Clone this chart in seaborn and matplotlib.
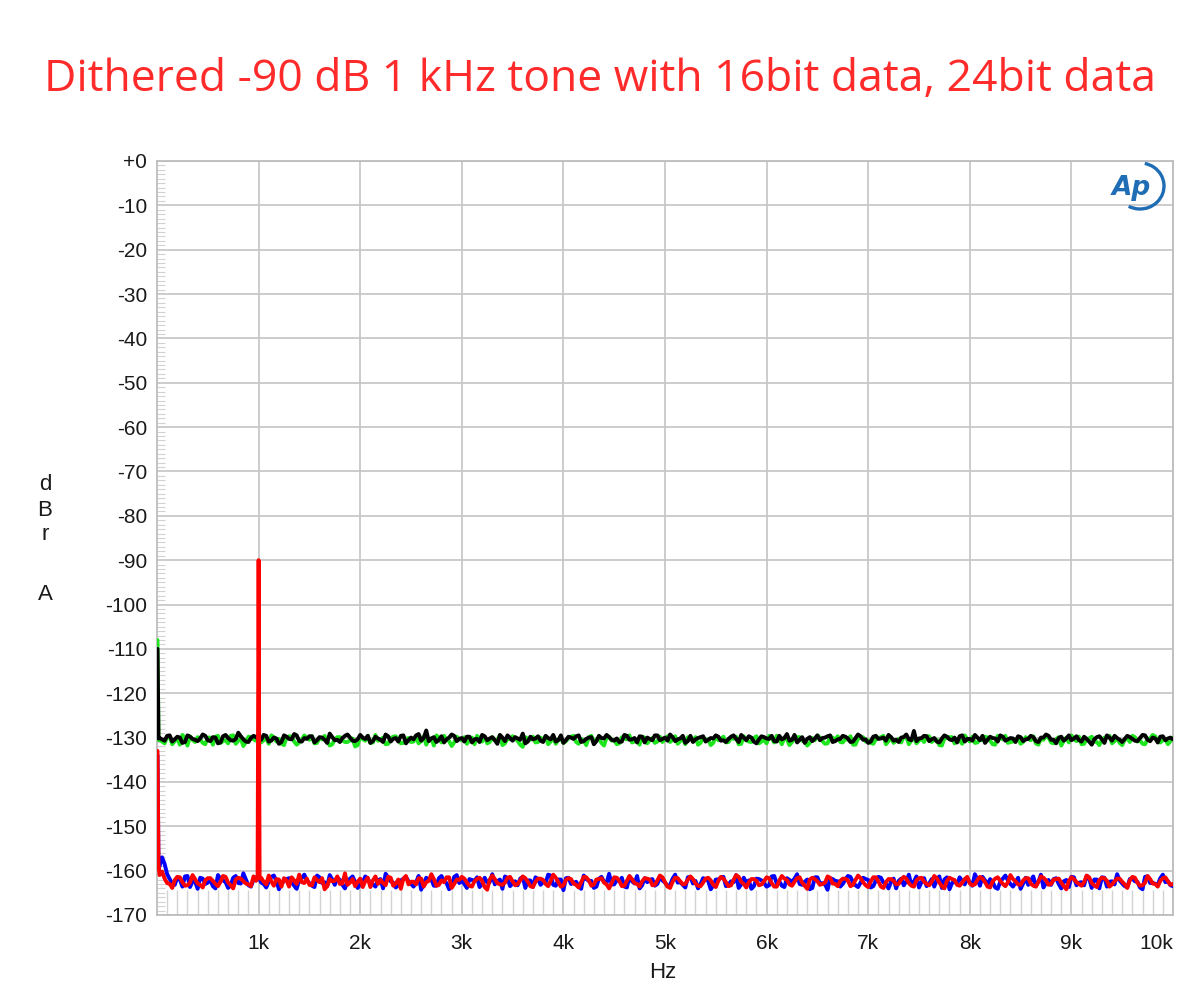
import numpy as np
import pandas as pd
import matplotlib
matplotlib.use("Agg")
import matplotlib.pyplot as plt
from matplotlib.patches import Arc
import seaborn as sns

title = "Dithered -90 dB 1 kHz tone with 16bit data, 24bit data"

# FFT bin grids (Hz)
freq_hz = np.arange(50, 10001, 50)
freq_half_hz = np.arange(25, 10000, 50)
low_freq_hz = [5, 15]

green_low = [-108.0, -130.6]
black_low = [-110.0, -130.2]
blue_low = [-134.0, -159.5]
red_low = [-133.0, -158.5]

tone_side_freq = [990, 1010]
tone_side_db = [-161.5, -161.8]

black_db = [
    -130.4,-129.6,-130.9,-129.8,-131.2,-129.5,-130.3,-130.8,-129.3,-130.6,
    -129.9,-131.3,-129.7,-130.1,-130.7,-128.9,-130.4,-131.0,-129.6,-130.2,
    -129.4,-130.9,-130.0,-131.4,-129.5,-130.3,-129.2,-130.8,-130.1,-129.7,
    -131.1,-129.9,-130.5,-129.1,-130.6,-131.0,-129.6,-130.0,-130.8,-129.4,
    -130.3,-131.2,-129.8,-130.5,-129.3,-130.9,-130.1,-129.6,-131.3,-130.0,
    -129.5,-130.7,-128.4,-130.2,-131.0,-129.7,-130.4,-129.3,-130.8,-130.1,
    -129.8,-131.1,-130.3,-129.4,-130.6,-129.9,-131.4,-130.0,-129.5,-130.7,
    -130.2,-129.1,-130.9,-130.4,-129.7,-131.0,-130.1,-129.4,-130.6,-131.2,
    -129.8,-130.3,-129.5,-130.8,-130.0,-131.5,-129.6,-130.2,-129.9,-130.7,
    -131.0,-129.4,-130.5,-130.1,-129.7,-131.1,-130.3,-129.5,-130.6,-130.0,
    -129.3,-130.8,-130.2,-131.2,-129.6,-130.4,-129.9,-130.9,-130.1,-129.5,
    -130.7,-131.0,-129.8,-130.3,-129.4,-130.6,-130.0,-131.3,-129.7,-130.2,
    -129.6,-130.9,-130.4,-129.2,-130.5,-131.1,-129.9,-130.3,-130.8,-129.5,
    -130.1,-129.7,-131.0,-130.4,-129.6,-130.2,-130.9,-129.3,-130.5,-131.2,
    -129.8,-130.3,-130.0,-129.4,-130.7,-131.0,-129.9,-130.4,-128.5,-130.2,
    -129.6,-130.8,-130.1,-131.1,-129.5,-130.4,-130.0,-129.7,-130.9,-130.3,
    -129.4,-130.6,-131.2,-129.8,-130.2,-129.5,-130.7,-130.1,-131.0,-129.9,
    -130.4,-129.6,-130.8,-130.0,-129.3,-130.5,-131.3,-129.8,-130.2,-130.6,
    -129.7,-130.9,-130.3,-131.6,-129.9,-130.4,-129.5,-130.7,-130.1,-131.0,
    -129.6,-130.3,-130.8,-129.4,-130.5,-130.0,-131.1,-129.7,-130.2,-130.4,
]
black_half_db = [
    -130.1,-130.7,-129.5,-130.4,-130.0,-131.0,-129.8,-130.5,-130.2,-129.6,
    -130.8,-130.0,-131.1,-129.4,-130.6,-130.3,-129.7,-130.9,-130.1,-129.9,
    -130.5,-129.6,-130.7,-130.2,-131.0,-129.8,-130.4,-129.5,-130.9,-130.3,
    -129.7,-130.6,-130.0,-131.2,-129.9,-130.5,-130.1,-129.3,-130.7,-130.4,
    -130.0,-129.6,-130.8,-130.2,-131.0,-129.7,-130.3,-130.9,-129.5,-130.6,
    -130.4,-129.2,-130.1,-130.8,-129.9,-130.5,-131.1,-130.0,-129.6,-130.3,
    -130.9,-129.8,-130.4,-131.0,-129.7,-130.2,-130.6,-129.4,-130.8,-130.1,
    -129.9,-130.5,-131.3,-129.8,-130.2,-130.7,-129.6,-130.4,-130.9,-129.5,
    -130.6,-130.0,-129.7,-131.0,-130.3,-129.9,-130.8,-130.1,-129.4,-130.5,
    -130.2,-130.9,-129.6,-130.4,-131.1,-129.8,-130.0,-130.6,-129.5,-130.3,
    -130.7,-129.9,-130.4,-129.6,-130.8,-131.0,-130.1,-129.7,-130.5,-130.2,
    -129.8,-130.6,-130.3,-129.5,-131.0,-130.0,-129.7,-130.9,-130.4,-129.9,
    -130.3,-130.8,-129.6,-130.1,-130.7,-129.4,-130.5,-131.2,-129.9,-130.2,
    -130.6,-130.0,-129.5,-130.8,-130.3,-129.8,-131.0,-130.1,-129.7,-130.4,
    -130.9,-129.6,-130.2,-130.7,-129.9,-130.5,-130.0,-129.3,-130.6,-130.8,
    -130.1,-129.7,-130.4,-130.9,-130.2,-129.8,-130.6,-131.1,-129.5,-130.3,
    -130.7,-130.0,-129.6,-130.5,-130.1,-130.9,-129.8,-130.4,-130.2,-129.7,
    -130.8,-130.3,-129.9,-131.0,-130.0,-129.6,-130.5,-130.1,-130.7,-129.5,
    -130.2,-130.6,-129.8,-130.9,-130.4,-129.7,-131.2,-130.0,-129.6,-130.5,
    -130.3,-129.9,-130.7,-130.1,-129.5,-130.8,-130.2,-129.8,-130.6,-130.0,
]

green_db = [
    -130.9,-129.8,-131.5,-130.2,-129.4,-131.8,-130.5,-129.9,-131.2,-130.0,
    -131.6,-129.6,-130.8,-131.3,-129.5,-130.7,-131.9,-129.8,-130.4,-129.3,
    -130.6,-131.4,-129.9,-130.3,-131.7,-129.7,-130.9,-131.1,-129.5,-130.5,
    -131.3,-130.0,-129.6,-131.8,-130.4,-129.9,-131.0,-130.6,-132.0,-129.8,
    -130.7,-131.2,-129.4,-130.5,-131.5,-130.1,-129.7,-131.3,-130.3,-131.0,
    -129.9,-130.8,-131.6,-130.2,-129.5,-131.1,-130.4,-131.9,-129.8,-130.6,
    -131.4,-130.0,-129.6,-130.9,-131.3,-129.9,-130.5,-131.7,-130.2,-129.7,
    -130.8,-132.1,-130.3,-129.8,-131.0,-130.6,-131.5,-129.9,-130.4,-131.2,
    -130.1,-129.6,-131.4,-130.7,-129.9,-131.0,-130.3,-131.8,-129.8,-130.5,
    -131.3,-130.2,-129.5,-130.9,-131.6,-130.0,-130.6,-131.2,-129.8,-130.4,
    -131.0,-129.7,-130.8,-131.5,-130.3,-129.9,-131.2,-130.5,-131.7,-129.6,
    -130.4,-131.1,-130.0,-129.8,-131.4,-130.6,-131.0,-129.7,-130.9,-131.3,
    -130.2,-129.6,-131.5,-130.4,-131.0,-129.9,-130.7,-131.8,-130.1,-129.5,
    -130.8,-131.3,-130.0,-129.7,-131.1,-130.5,-131.6,-130.2,-129.9,-130.6,
    -131.4,-130.1,-129.6,-130.8,-131.2,-130.3,-129.8,-131.5,-130.0,-130.7,
    -131.0,-129.7,-130.5,-131.7,-130.2,-129.9,-131.3,-130.6,-129.5,-130.9,
    -131.2,-130.4,-129.8,-130.7,-131.6,-130.1,-129.6,-131.0,-130.5,-131.4,
    -129.9,-130.6,-131.3,-130.2,-129.7,-131.1,-130.4,-131.8,-130.0,-129.5,
    -130.8,-131.5,-130.3,-129.8,-131.0,-130.6,-129.9,-131.3,-130.2,-131.7,
    -130.1,-129.6,-130.9,-131.4,-130.3,-129.4,-131.0,-130.6,-131.5,-130.0,
]
green_half_db = [
    -130.5,-131.3,-129.9,-130.8,-131.6,-130.1,-129.7,-131.0,-130.4,-131.5,
    -130.0,-129.8,-131.2,-130.6,-129.6,-131.4,-130.3,-131.0,-129.9,-130.7,
    -131.1,-130.2,-129.5,-130.9,-131.4,-130.0,-129.8,-131.6,-130.5,-130.1,
    -129.7,-131.2,-130.4,-130.8,-131.5,-129.9,-130.6,-131.0,-130.2,-131.7,
    -130.3,-129.6,-131.1,-130.7,-130.0,-131.4,-129.8,-130.5,-131.2,-130.1,
    -130.9,-131.3,-129.7,-130.4,-131.8,-130.0,-129.6,-130.8,-131.1,-130.3,
    -129.9,-130.6,-131.5,-130.2,-129.8,-131.0,-130.7,-129.5,-131.3,-130.4,
    -130.1,-131.6,-129.9,-130.5,-131.1,-130.0,-129.7,-130.9,-131.4,-130.2,
    -130.8,-129.8,-131.0,-130.3,-131.7,-129.6,-130.5,-131.2,-130.0,-130.7,
    -131.5,-129.9,-130.4,-131.1,-130.6,-129.8,-131.3,-130.1,-130.9,-131.0,
    -129.7,-130.5,-131.4,-130.2,-129.9,-130.8,-131.6,-130.0,-130.4,-131.2,
    -130.6,-129.8,-131.0,-130.3,-131.5,-129.7,-130.9,-130.1,-131.3,-130.5,
    -129.6,-131.1,-130.4,-130.0,-131.7,-130.2,-129.9,-130.8,-131.2,-130.6,
    -130.0,-131.4,-129.8,-130.5,-131.0,-130.3,-129.7,-131.6,-130.1,-130.9,
    -131.2,-130.4,-129.9,-131.5,-130.0,-130.7,-131.1,-129.8,-130.6,-131.3,
    -130.2,-129.7,-131.0,-130.5,-131.8,-130.1,-129.9,-130.8,-131.4,-130.3,
    -129.8,-131.1,-130.6,-130.0,-131.5,-129.6,-130.4,-131.2,-130.9,-130.1,
    -131.0,-130.3,-129.7,-131.6,-130.5,-130.0,-131.3,-129.9,-130.7,-131.1,
    -130.4,-129.8,-131.4,-130.2,-130.9,-131.7,-130.0,-129.6,-130.8,-131.2,
    -130.5,-131.0,-129.9,-130.6,-131.5,-130.2,-129.7,-131.1,-130.4,-130.8,
]

blue_db = [
    -157.0,-160.8,-162.9,-161.5,-163.6,-161.2,-162.4,-164.1,-161.8,-162.7,
    -163.5,-161.0,-162.2,-163.9,-161.6,-162.8,-160.6,-163.3,-162.0,-161.4,
    -163.0,-162.5,-161.1,-164.2,-162.3,-161.7,-163.4,-162.0,-160.9,-162.8,
    -163.7,-161.5,-162.6,-161.0,-163.2,-162.1,-164.0,-161.8,-162.5,-163.1,
    -161.3,-162.9,-163.6,-161.9,-160.7,-162.4,-163.8,-162.2,-161.4,-163.0,
    -162.6,-164.3,-161.6,-162.0,-163.4,-161.2,-162.8,-163.5,-161.0,-162.3,
    -163.9,-162.1,-161.5,-163.0,-162.7,-160.8,-162.4,-164.1,-161.7,-162.9,
    -163.3,-161.4,-162.2,-163.7,-161.9,-162.6,-160.9,-163.2,-162.0,-164.4,
    -161.6,-162.8,-163.5,-161.1,-162.3,-163.9,-161.8,-162.5,-160.7,-163.1,
    -162.4,-163.6,-161.3,-162.9,-164.0,-161.7,-162.1,-163.4,-161.5,-162.7,
    -163.2,-160.9,-162.6,-163.8,-161.4,-162.3,-163.0,-161.9,-164.2,-162.0,
    -161.6,-163.5,-162.4,-161.0,-163.1,-162.7,-164.1,-161.8,-162.2,-163.6,
    -161.3,-162.9,-163.4,-161.7,-162.5,-160.8,-163.2,-162.0,-163.9,-161.5,
    -162.8,-164.3,-161.9,-162.4,-163.0,-161.2,-162.6,-163.7,-161.6,-162.1,
    -163.5,-161.4,-162.7,-164.0,-161.8,-162.3,-163.3,-160.9,-162.5,-163.8,
    -161.7,-162.9,-163.6,-161.3,-162.0,-164.2,-162.4,-161.5,-163.1,-162.6,
    -160.8,-163.4,-162.2,-161.9,-163.8,-162.5,-161.1,-163.0,-162.7,-164.1,
    -161.6,-162.3,-163.5,-160.9,-162.8,-163.2,-161.7,-164.0,-162.1,-161.4,
    -163.3,-162.6,-161.2,-163.9,-162.0,-161.5,-163.6,-162.4,-160.8,-162.9,
    -163.7,-161.8,-162.5,-164.2,-161.3,-162.7,-163.1,-160.9,-162.4,-163.5,
]
blue_half_db = [
    -159.0,-158.5,-161.9,-163.2,-162.0,-161.3,-163.7,-162.5,-161.6,-163.0,
    -162.1,-164.0,-161.8,-162.6,-163.3,-161.2,-162.9,-162.0,-163.6,-161.5,
    -162.7,-163.8,-161.4,-162.3,-163.0,-161.9,-162.5,-164.1,-161.7,-162.2,
    -163.4,-161.1,-162.8,-163.5,-162.0,-161.6,-163.2,-162.4,-161.3,-163.9,
    -162.6,-161.8,-163.1,-162.2,-164.0,-161.5,-162.7,-163.3,-161.9,-162.4,
    -163.6,-161.2,-162.9,-162.1,-163.4,-161.7,-162.5,-164.2,-161.4,-162.8,
    -163.0,-161.9,-162.3,-163.7,-161.6,-162.6,-163.1,-162.0,-161.3,-163.5,
    -162.4,-161.8,-163.9,-162.2,-161.5,-163.2,-162.7,-161.1,-163.4,-162.0,
    -161.7,-163.0,-162.5,-164.1,-161.9,-162.3,-163.6,-161.4,-162.8,-163.1,
    -162.1,-161.6,-163.8,-162.4,-161.2,-163.3,-162.6,-161.9,-163.0,-162.2,
    -163.5,-161.8,-162.7,-163.2,-161.5,-162.9,-164.0,-161.7,-162.3,-163.4,
    -162.0,-161.4,-163.1,-162.6,-163.9,-161.6,-162.2,-163.5,-161.9,-162.8,
    -163.3,-161.2,-162.4,-163.7,-162.1,-161.8,-163.0,-162.5,-164.2,-161.5,
    -162.9,-163.1,-161.7,-162.3,-163.6,-162.0,-161.4,-163.3,-162.7,-161.9,
    -163.8,-162.2,-161.6,-163.0,-162.5,-164.0,-161.8,-162.4,-163.2,-161.3,
    -162.6,-163.5,-161.9,-162.1,-163.9,-161.5,-162.8,-163.0,-162.3,-161.7,
    -163.4,-162.0,-161.4,-163.1,-162.6,-164.1,-161.8,-162.2,-163.6,-161.6,
    -162.9,-163.2,-161.3,-162.5,-163.8,-162.1,-161.9,-163.0,-162.4,-163.7,
    -161.5,-162.7,-163.3,-161.8,-162.0,-164.0,-161.6,-162.5,-163.1,-162.2,
    -163.5,-161.9,-162.4,-163.8,-161.4,-162.8,-163.0,-161.7,-162.6,-163.3,
]

red_db = [
    -160.2,-162.8,-163.9,-161.4,-162.6,-163.3,-161.0,-162.9,-163.8,-161.7,
    -162.3,-163.5,-161.2,-162.7,-164.0,-161.6,-162.4,-163.1,-161.3,-90.0,
    -162.5,-161.1,-163.4,-162.0,-161.7,-163.6,-162.2,-160.9,-162.8,-163.2,
    -161.5,-162.6,-164.2,-161.9,-162.3,-163.0,-160.6,-162.7,-163.5,-161.8,
    -162.4,-163.7,-161.3,-162.1,-163.3,-161.6,-162.9,-164.1,-161.2,-162.5,
    -163.1,-161.8,-162.6,-160.8,-163.4,-162.2,-161.5,-163.9,-162.0,-161.4,
    -162.7,-163.6,-161.9,-162.3,-164.3,-161.1,-162.8,-163.2,-161.6,-162.4,
    -163.0,-161.3,-162.5,-163.7,-161.8,-162.1,-163.5,-160.9,-162.6,-163.3,
    -161.7,-162.9,-163.8,-161.4,-162.2,-163.1,-161.9,-162.7,-164.0,-161.5,
    -162.3,-163.4,-161.2,-162.8,-163.6,-161.7,-162.0,-163.2,-161.1,-162.6,
    -163.9,-161.6,-162.4,-163.0,-161.3,-162.9,-163.5,-161.8,-162.2,-163.7,
    -161.4,-162.6,-163.3,-161.0,-162.5,-163.8,-161.9,-162.3,-163.1,-161.5,
    -162.8,-163.6,-161.2,-162.1,-163.4,-161.7,-162.7,-164.1,-161.6,-162.4,
    -163.0,-161.3,-162.9,-163.5,-161.8,-162.2,-163.2,-161.1,-162.6,-163.7,
    -161.5,-162.4,-163.9,-161.9,-162.3,-163.0,-161.4,-162.8,-163.6,-161.7,
    -162.5,-163.3,-161.2,-162.7,-164.0,-161.6,-162.1,-163.4,-161.9,-162.9,
    -163.1,-161.4,-162.6,-163.8,-161.8,-162.3,-163.5,-161.0,-162.4,-163.2,
    -161.7,-162.9,-163.6,-161.3,-162.2,-163.0,-161.9,-162.7,-164.2,-161.5,
    -162.6,-163.4,-161.1,-162.8,-163.7,-161.6,-162.3,-163.1,-161.8,-162.5,
    -163.9,-161.4,-162.7,-163.3,-161.2,-162.9,-163.6,-161.7,-162.4,-163.0,
]
red_half_db = [
    -161.0,-161.8,-163.0,-162.1,-161.5,-163.4,-162.7,-161.9,-163.2,-162.2,
    -161.7,-163.0,-162.5,-161.4,-163.3,-162.0,-161.8,-162.9,-163.5,-162.3,
    -161.6,-163.1,-162.4,-161.9,-163.6,-162.2,-161.5,-163.0,-162.6,-161.8,
    -163.3,-162.1,-161.7,-163.5,-162.4,-161.3,-162.9,-163.2,-161.9,-162.5,
    -163.7,-161.6,-162.2,-163.0,-162.8,-161.4,-163.4,-162.0,-161.8,-163.1,
    -162.5,-161.7,-163.6,-162.3,-161.9,-163.2,-162.6,-161.5,-163.0,-162.1,
    -161.8,-163.4,-162.4,-161.6,-163.7,-162.0,-161.9,-163.1,-162.7,-161.4,
    -163.3,-162.2,-161.7,-163.5,-162.5,-161.8,-163.0,-162.3,-161.6,-163.6,
    -162.1,-161.9,-163.2,-162.6,-161.5,-163.4,-162.0,-161.7,-163.1,-162.8,
    -161.6,-163.5,-162.3,-161.9,-163.0,-162.4,-161.8,-163.3,-162.2,-161.5,
    -163.6,-162.5,-161.7,-163.1,-162.0,-161.9,-163.4,-162.7,-161.6,-163.2,
    -162.3,-161.8,-163.5,-162.1,-161.4,-163.0,-162.6,-161.9,-163.3,-162.4,
    -161.7,-163.6,-162.2,-161.8,-163.1,-162.5,-161.5,-163.4,-162.0,-161.9,
    -163.2,-162.7,-161.6,-163.0,-162.3,-161.8,-163.5,-162.1,-161.7,-163.3,
    -162.4,-161.5,-163.6,-162.6,-161.9,-163.1,-162.0,-161.8,-163.4,-162.2,
    -161.6,-163.0,-162.5,-161.7,-163.5,-162.3,-161.9,-163.2,-162.7,-161.4,
    -163.3,-162.1,-161.8,-163.6,-162.4,-161.5,-163.0,-162.6,-161.9,-163.1,
    -162.2,-161.7,-163.4,-162.5,-161.6,-163.2,-162.0,-161.8,-163.5,-162.3,
    -161.9,-163.0,-162.6,-161.5,-163.3,-162.1,-161.7,-163.6,-162.4,-161.8,
    -163.1,-162.2,-161.6,-163.4,-162.7,-161.9,-163.0,-162.3,-161.5,-163.2,
]

x_ticks = [1000, 2000, 3000, 4000, 5000, 6000, 7000, 8000, 9000, 10000]
x_tick_labels = ["1k", "2k", "3k", "4k", "5k", "6k", "7k", "8k", "9k", "10k"]
y_ticks = list(range(0, -171, -10))
y_tick_labels = ["+0"] + [str(v) for v in y_ticks[1:]]


def series(name, low, vals, half_vals, extra_f=(), extra_v=()):
    f = list(low_freq_hz) + list(freq_hz) + list(freq_half_hz) + list(extra_f)
    v = list(low) + list(vals) + list(half_vals) + list(extra_v)
    return pd.DataFrame({"freq": f, "db": v, "trace": name}).sort_values("freq")


df = pd.concat([
    series("green", green_low, green_db, green_half_db),
    series("black", black_low, black_db, black_half_db),
    series("blue", blue_low, blue_db, blue_half_db),
    series("red", red_low, red_db, red_half_db, tone_side_freq, tone_side_db),
], ignore_index=True)

sns.set_style("white")
plt.rcParams["font.family"] = ["Liberation Sans", "DejaVu Sans"]

fig = plt.figure(figsize=(12.01, 10.01), dpi=100)
ax = fig.add_axes([157 / 1201, 1 - 915 / 1001, (1173 - 157) / 1201, (915 - 161) / 1001])

palette = {"green": "#1ee61e", "black": "#000000", "blue": "#0000ff", "red": "#ff0000"}
sns.lineplot(data=df, x="freq", y="db", hue="trace",
             hue_order=["green", "black", "blue", "red"], palette=palette,
             estimator=None, sort=True, legend=False, linewidth=2.8, ax=ax, zorder=3)

ax.set_xlim(0, 10000)
ax.set_ylim(-170, 0)
ax.set_xlabel("")
ax.set_ylabel("")

ax.set_xticks(x_ticks)
ax.set_xticklabels(x_tick_labels)
ax.set_yticks(y_ticks)
ax.set_yticklabels(y_tick_labels)
for t in ax.get_xticklabels():
    if t.get_text() == "10k":
        t.set_horizontalalignment("right")

ax.set_xticks(np.arange(100, 10000, 100), minor=True)
ax.set_yticks(np.arange(-169, 0, 1), minor=True)

ax.tick_params(axis="both", which="major", length=0, labelsize=15, colors="#1a1a1a")
ax.tick_params(axis="x", which="major", pad=14)
ax.tick_params(axis="y", which="major", pad=7)
ax.tick_params(axis="x", which="minor", direction="in", length=18, width=1.0,
               color="#d2d2d2", bottom=True)
ax.tick_params(axis="y", which="minor", direction="in", length=6, width=0.8,
               color="#d2d2d2", left=True)

ax.grid(which="major", color="#c8c8c8", linewidth=1.3)
ax.grid(which="minor", visible=False)
ax.set_axisbelow(True)
for s in ax.spines.values():
    s.set_color("#bdbdbd")
    s.set_linewidth(1.3)

fig.text(0.5, 1 - 91 / 1001, title, ha="center", va="baseline", color="#ff2a2a",
         fontsize=32, family=["Open Sans", "DejaVu Sans"])

for ch, yp in [("d", 485), ("B", 510), ("r", 535), ("A", 595)]:
    fig.text(45 / 1201, 1 - yp / 1001, ch, ha="center", va="center",
             fontsize=16, color="#1a1a1a")
fig.text(663 / 1201, 1 - 972 / 1001, "Hz", ha="center", va="center",
         fontsize=16, color="#1a1a1a")

# AP logo
fig.text(1131 / 1201, 1 - 188 / 1001, "Ap", ha="center", va="center", fontsize=19,
         fontweight="bold", fontstyle="italic", color="#1f6db5",
         family=["DejaVu Sans"])
arc = Arc((1140 / 1201, 1 - 186 / 1001), 48 / 1201, 46 / 1001, theta1=-115, theta2=80,
          transform=fig.transFigure, color="#1f6db5", linewidth=2.4)
fig.add_artist(arc)

fig.savefig("out.png", dpi=100, facecolor="white")
